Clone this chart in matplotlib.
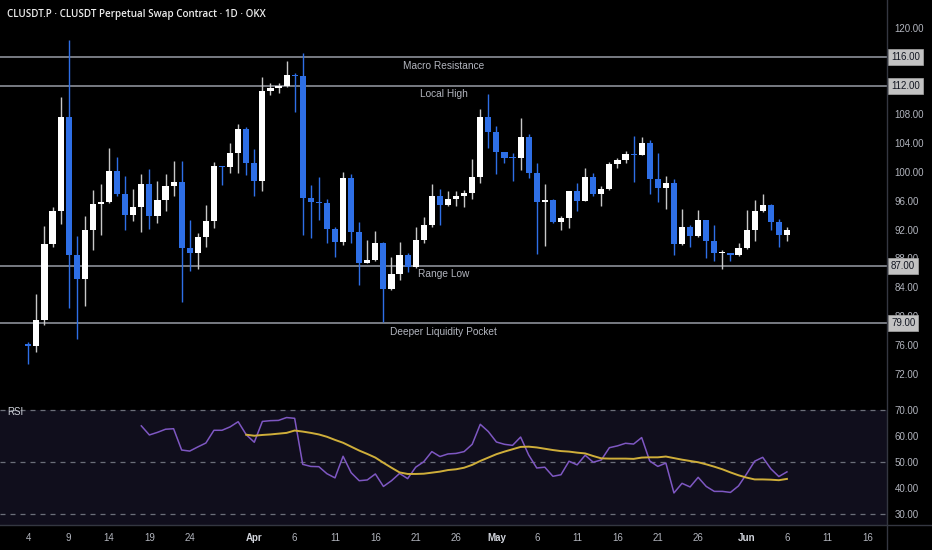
import matplotlib
matplotlib.use("Agg")
import matplotlib.pyplot as plt
import matplotlib.dates as mdates
import matplotlib.transforms as mtransforms
from matplotlib.lines import Line2D
import numpy as np
import pandas as pd

# ---------------- data ----------------
dates = pd.date_range("2025-03-04", "2025-06-06", freq="D")

opens = [76.0, 75.9, 79.4, 90.0, 94.6, 107.7, 88.5, 85.2, 91.9, 95.5,
         95.8, 100.2, 97.0, 94.0, 95.2, 98.3, 93.9, 96.1, 98.1, 98.6,
         89.4, 88.8, 91.0, 93.2, 100.8, 100.7, 102.7, 106.0, 101.3, 98.7,
         111.2, 111.6, 112.0, 113.5, 113.3, 96.4, 95.8, 95.7, 92.1, 90.3,
         99.1, 91.6, 87.4, 87.8, 90.1, 83.75, 85.8, 88.5, 86.8, 90.6,
         92.6, 96.7, 95.4, 96.3, 96.6, 97.1, 99.35, 107.7, 105.6, 102.8,
         102.0, 101.9, 104.9, 99.8, 95.9, 96.1, 93.1, 93.6, 97.3, 96.0,
         99.35, 96.9, 97.7, 101.1, 101.7, 102.45, 102.3, 104.0, 99.0, 97.8,
         98.5, 90.0, 92.3, 91.1, 93.3, 90.4, 88.7, 88.8, 88.5, 89.5,
         91.9, 94.6, 95.4, 93.0, 91.2]
highs = [76.4, 83.1, 92.5, 95.2, 110.4, 118.3, 91.1, 93.9, 97.5, 98.4,
         103.4, 102.1, 99.5, 97.6, 99.7, 100.4, 98.75, 99.7, 101.5, 101.5,
         93.3, 91.5, 95.4, 101.4, 100.9, 104.0, 106.7, 106.3, 103.15, 113.2,
         112.3, 112.3, 115.4, 113.8, 116.5, 98.2, 99.35, 96.25, 92.4, 100.0,
         99.7, 93.0, 90.6, 91.85, 90.3, 88.2, 90.3, 88.8, 92.3, 93.7,
         98.3, 97.7, 97.3, 97.3, 97.5, 101.8, 108.75, 110.8, 106.4, 102.8,
         102.6, 107.5, 105.3, 101.3, 98.4, 96.3, 93.9, 97.4, 98.5, 100.5,
         99.9, 98.1, 101.4, 101.9, 102.9, 105.05, 104.8, 104.45, 102.7, 99.4,
         99.0, 94.8, 92.7, 94.7, 93.4, 92.7, 89.2, 88.8, 90.1, 94.7,
         96.1, 96.9, 95.6, 93.5, 92.4]
lows = [73.3, 75.0, 78.7, 89.6, 92.8, 81.1, 76.8, 81.4, 89.1, 91.25,
        95.7, 96.6, 91.9, 93.2, 91.6, 92.1, 92.9, 94.6, 96.6, 82.0,
        86.25, 86.5, 89.6, 92.2, 98.2, 99.9, 99.8, 99.6, 96.6, 97.4,
        110.7, 111.0, 111.8, 108.3, 91.2, 90.8, 93.3, 90.1, 88.2, 89.8,
        90.1, 84.3, 87.3, 87.6, 79.2, 83.6, 85.0, 86.1, 86.7, 90.1,
        92.3, 92.6, 95.3, 95.3, 95.2, 96.3, 98.5, 103.4, 99.7, 101.2,
        98.75, 100.3, 99.1, 88.6, 89.7, 92.95, 91.9, 92.2, 94.6, 96.0,
        96.7, 95.3, 97.5, 100.5, 101.2, 98.66, 102.3, 97.0, 95.9, 94.9,
        88.5, 89.9, 89.6, 91.0, 88.0, 87.6, 86.5, 87.6, 88.4, 89.3,
        90.4, 94.4, 92.0, 89.6, 90.4]
closes = [75.9, 79.4, 90.0, 94.6, 107.7, 88.5, 85.2, 91.9, 95.5, 95.8,
          100.2, 97.0, 94.0, 95.2, 98.3, 93.9, 96.1, 98.1, 98.6, 89.4,
          88.8, 91.0, 93.2, 100.8, 100.7, 102.7, 106.0, 101.3, 98.7, 111.2,
          111.6, 112.0, 113.5, 113.3, 96.4, 95.8, 95.7, 92.1, 90.3, 99.1,
          91.6, 87.4, 87.8, 90.1, 83.75, 85.8, 88.5, 86.8, 90.6, 92.6,
          96.7, 95.4, 96.3, 96.6, 97.1, 99.35, 107.7, 105.6, 102.8, 102.0,
          101.9, 104.9, 99.8, 95.9, 96.1, 93.1, 93.6, 97.3, 96.0, 99.35,
          96.9, 97.7, 101.1, 101.7, 102.45, 102.3, 104.0, 99.0, 97.8, 98.5,
          90.0, 92.3, 91.1, 93.3, 90.4, 88.7, 88.8, 88.5, 89.5, 91.9,
          94.6, 95.4, 93.0, 91.2, 92.0]

rsi_dates = pd.date_range("2025-03-18", "2025-06-06", freq="D")
rsi = [63.9, 60.4, 61.4, 62.6, 62.8, 54.6, 54.2, 55.8, 57.3, 62.2,
       62.2, 63.5, 65.5, 60.5, 57.6, 65.6, 65.9, 66.0, 67.1, 66.8,
       49.1, 48.3, 48.2, 45.5, 43.9, 52.2, 45.9, 42.8, 43.1, 45.4,
       40.6, 42.8, 45.6, 43.6, 48.0, 50.1,
       54.0, 52.1, 53.1, 53.3, 54.0, 56.8, 64.5, 61.7, 57.7, 56.8,
       56.4, 59.6, 52.7, 47.7, 48.0, 44.5, 45.1, 50.3, 48.9, 52.6,
       49.9, 50.8, 55.5, 56.2, 57.2, 56.9, 59.4, 50.4, 48.3, 49.6,
       38.1, 41.8, 40.4, 44.1, 40.6, 38.7, 38.7, 38.3, 40.8, 45.4,
       50.3, 51.8, 47.4, 44.4, 46.2]

rsi_ma_dates = pd.date_range("2025-03-31", "2025-06-06", freq="D")
rsi_ma = [60.5, 60.1, 60.4, 60.6, 60.9, 61.2, 62.1, 61.7, 61.2, 60.6,
          59.7, 58.5, 57.4, 55.9, 54.4, 53.1, 51.7, 49.7, 47.8, 46.0,
          45.4, 45.4, 45.5,
          45.9, 46.3, 46.9, 47.2, 47.8, 48.9, 50.4, 51.7, 53.0, 54.0,
          54.9, 55.8, 55.9, 55.6, 55.1, 54.6, 54.2, 54.0, 53.6, 53.3,
          52.3, 51.4, 51.3, 51.3, 51.3, 51.2, 51.7, 51.8, 51.8, 52.1,
          51.5, 50.9, 50.4, 49.9, 49.1, 48.2, 47.2, 46.0, 44.9, 44.0,
          43.3, 43.3, 43.2, 43.0, 43.5]

levels = [116, 112, 87, 79]
level_names = ["Macro Resistance", "Local High", "Range Low", "Deeper Liquidity Pocket"]

# 112 and 116 are covered by the level price tags
price_ticks = [72, 76, 80, 84, 88, 92, 96, 100, 104, 108, 120]
rsi_ticks = [30, 40, 50, 60, 70]
rsi_bands = [30, 50, 70]

tick_dates = ["2025-03-04", "2025-03-09", "2025-03-14", "2025-03-19", "2025-03-24",
              "2025-04-01", "2025-04-06", "2025-04-11", "2025-04-16", "2025-04-21",
              "2025-04-26", "2025-05-01", "2025-05-06", "2025-05-11", "2025-05-16",
              "2025-05-21", "2025-05-26", "2025-06-01", "2025-06-06", "2025-06-11",
              "2025-06-16"]
tick_labels = ["4", "9", "14", "19", "24", "Apr", "6", "11", "16", "21", "26",
               "May", "6", "11", "16", "21", "26", "Jun", "6", "11", "16"]

title = "CLUSDT.P · CLUSDT Perpetual Swap Contract · 1D · OKX"

# ---------------- style ----------------
W, H = 932, 550
UP = "#ffffff"
DOWN = "#2e6fe6"
TXT = "#b2b5be"
GRID = "#343741"
plt.rcParams["font.family"] = ["Liberation Sans", "DejaVu Sans"]

fig = plt.figure(figsize=(W / 100, H / 100), dpi=100, facecolor="black")

def px_axes(x0, y0, x1, y1):
    return fig.add_axes([x0 / W, 1 - y1 / H, (x1 - x0) / W, (y1 - y0) / H])

ax = px_axes(0, 0, 887, 397)
ax2 = px_axes(0, 399, 887, 525)

x = mdates.date2num(dates)
o = np.array(opens); h = np.array(highs); l = np.array(lows); c = np.array(closes)
up = c >= o
col = np.where(up, UP, DOWN)
wick_col = np.where(up, "#c8c8c8", DOWN)

ax.vlines(x, l, h, colors=wick_col, linewidth=1.0, zorder=3)
body_bottom = np.minimum(o, c)
body_h = np.maximum(np.abs(c - o), 0.15)
ax.bar(x, body_h, bottom=body_bottom, width=0.76, color=col, linewidth=0, zorder=4)

for lv, name in zip(levels, level_names):
    ax.axhline(lv, color="#8c8f98", linewidth=1.2, zorder=2)
    ax.annotate(name, xy=(0.5, lv), xycoords=("axes fraction", "data"),
                xytext=(0, -6.4), textcoords="offset points",
                ha="center", va="center", color=TXT, fontsize=7.3, zorder=5)

x0 = mdates.date2num(pd.Timestamp("2025-03-01"))
for a in (ax, ax2):
    a.set_facecolor("black")
    a.set_xlim(x0 - 0.51, x0 + 109.4)
    for s in a.spines.values():
        s.set_visible(False)
    a.yaxis.tick_right()
    a.tick_params(axis="y", length=0, pad=5.5, labelsize=7.0, labelcolor=TXT)
    a.tick_params(axis="x", length=0)

ax.set_ylim(68.75, 123.89)
ax.set_yticks(price_ticks)
ax.set_yticklabels([f"{v:.2f}" for v in price_ticks])
ax.set_xticks([])

blend = mtransforms.blended_transform_factory(ax.transAxes, ax.transData)
for lv in levels:
    ax.text(1.0 + 4 / 887, lv, f"{lv:.2f}", transform=blend, ha="left", va="center",
            fontsize=7.0, color="#131722", clip_on=False, zorder=10,
            bbox=dict(boxstyle="square,pad=0.3", fc="#c2c2c2", ec="#a8a8a8", lw=0.5))

# RSI pane
ax2.set_ylim(25.77, 74.23)
ax2.axhspan(25.77, 70, color="#100e1c", zorder=0, linewidth=0)
for lv in rsi_bands:
    ax2.axhline(lv, color="#6c6f7a", linewidth=0.9, linestyle=(0, (4, 4)), zorder=1)
ax2.plot(mdates.date2num(rsi_dates), rsi, color="#7e57c2", linewidth=1.1, zorder=3)
ax2.plot(mdates.date2num(rsi_ma_dates), rsi_ma, color="#cfae3a", linewidth=1.4, zorder=4)
ax2.set_yticks(rsi_ticks)
ax2.set_yticklabels([f"{v:.2f}" for v in rsi_ticks])
ax2.set_xticks(mdates.date2num(pd.to_datetime(tick_dates)))
ax2.set_xticklabels(tick_labels)
ax2.tick_params(axis="x", pad=6, labelsize=7.0, labelcolor=TXT)
for lab in ax2.get_xticklabels():
    if lab.get_text() in ("Apr", "May", "Jun"):
        lab.set_fontweight("bold")
        lab.set_color("#d1d4dc")

# separators
fig.add_artist(Line2D([887 / W, 887 / W], [0, 1], color=GRID, linewidth=1.0))
fig.add_artist(Line2D([0, 1], [1 - 525 / H, 1 - 525 / H], color=GRID, linewidth=1.0))

fig.text(7 / W, 1 - 14 / H, title, color="#ececec", fontsize=7.1, va="center", ha="left",
         family=["Open Sans", "DejaVu Sans"], fontweight="semibold")
fig.text(7 / W, 1 - 412 / H, "RSI", color="#d1d4dc", fontsize=7.0, va="center", ha="left")

fig.savefig("out.png", dpi=100, facecolor="black")
